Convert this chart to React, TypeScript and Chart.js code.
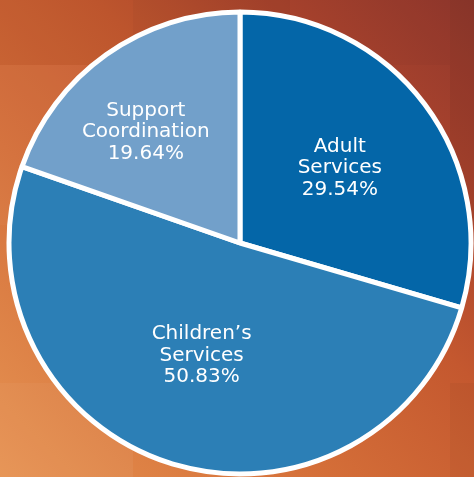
import React, { useEffect, useRef } from "react";
import { Chart, registerables } from "chart.js";

Chart.register(...registerables);

const categories: string[][] = [["Adult", "Services"], ["Children’s", "Services"], ["Support", "Coordination"]];
const shares: number[] = [29.54, 50.83, 19.64];
const sliceColors: string[] = ["#0466A8", "#2C7FB6", "#72A0CA"];
// label placement per slice: fraction of radius, angle shift in degrees
const labelRadius: number[] = [0.54, 0.515, 0.63];
const labelAngleShift: number[] = [0, 1, -5];

const labelPlugin = {
  id: "sliceLabels",
  afterDatasetsDraw(chart: any) {
    const ctx = chart.ctx;
    const meta = chart.getDatasetMeta(0);
    ctx.save();
    ctx.fillStyle = "#ffffff";
    ctx.font = "20px 'DejaVu Sans'";
    ctx.textAlign = "center";
    ctx.textBaseline = "middle";
    meta.data.forEach((arc: any, i: number) => {
      const p = arc.getProps(["x", "y", "startAngle", "endAngle", "outerRadius"], true);
      const mid = (p.startAngle + p.endAngle) / 2 + (labelAngleShift[i] * Math.PI) / 180;
      const r = p.outerRadius * labelRadius[i];
      const cx = p.x + Math.cos(mid) * r;
      const cy = p.y + Math.sin(mid) * r;
      const lines = [...categories[i], shares[i].toFixed(2) + "%"];
      const lh = 21.5;
      lines.forEach((ln, k) => {
        ctx.fillText(ln, cx, cy + (k - (lines.length - 1) / 2) * lh);
      });
    });
    ctx.restore();
  },
};

const tiles = [
  { x: 0, y: 0, w: 133, h: 65, c: "rgba(0,0,0,0.03)" },
  { x: 133, y: 0, w: 157, h: 65, c: "rgba(0,0,0,0.06)" },
  { x: 290, y: 0, w: 160, h: 65, c: "rgba(0,0,0,0.02)" },
  { x: 450, y: 0, w: 24, h: 225, c: "rgba(0,0,0,0.05)" },
  { x: 0, y: 65, w: 133, h: 160, c: "rgba(255,255,255,0.04)" },
  { x: 0, y: 225, w: 133, h: 158, c: "rgba(255,255,255,0.02)" },
  { x: 0, y: 383, w: 133, h: 94, c: "rgba(255,255,255,0.05)" },
  { x: 450, y: 383, w: 24, h: 94, c: "rgba(0,0,0,0.03)" },
];

export default function App() {
  const ref = useRef<HTMLCanvasElement>(null);
  useEffect(() => {
    document.body.style.margin = "0";
    const chart = new Chart(ref.current as HTMLCanvasElement, {
      type: "pie",
      data: {
        labels: categories.map((c) => c.join(" ")),
        datasets: [
          {
            data: shares,
            backgroundColor: sliceColors,
            borderColor: "#ffffff",
            borderWidth: 5,
          },
        ],
      },
      options: {
        responsive: false,
        animation: false,
        radius: 231,
        layout: { padding: { left: 6, right: 0, top: 9, bottom: 0 } },
        plugins: { legend: { display: false }, tooltip: { enabled: false } },
      } as any,
      plugins: [labelPlugin],
    });
    return () => chart.destroy();
  }, []);
  return (
    <div
      style={{
        position: "relative",
        width: 474,
        height: 477,
        overflow: "hidden",
        background: "linear-gradient(to top right, #E6914F 0%, #D46E38 35%, #C4582F 60%, #A9432D 80%, #8F372C 100%)",
      }}
    >
      {tiles.map((t, i) => (
        <div
          key={i}
          style={{ position: "absolute", left: t.x, top: t.y, width: t.w, height: t.h, background: t.c }}
        />
      ))}
      <canvas ref={ref} width={474} height={477} style={{ position: "absolute", left: 0, top: 0 }} />
    </div>
  );
}
